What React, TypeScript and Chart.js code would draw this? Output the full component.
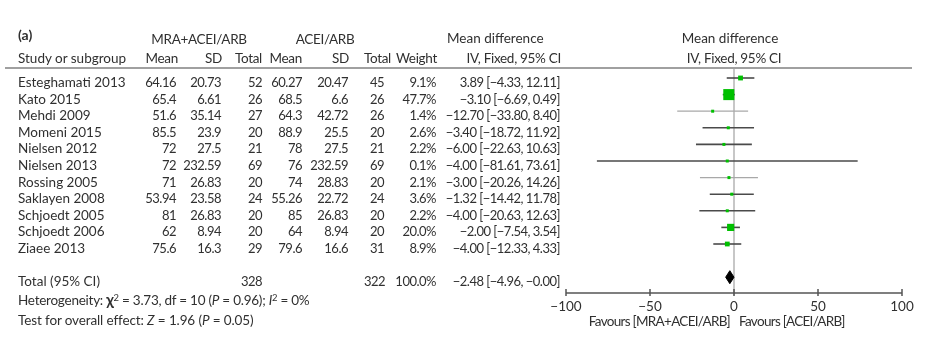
import React, { useEffect, useRef } from "react";
import { Chart, registerables } from "chart.js";

Chart.register(...registerables);

// ---------------- data ----------------
const studies = [
  "Esteghamati 2013", "Kato 2015", "Mehdi 2009", "Momeni 2015", "Nielsen 2012",
  "Nielsen 2013", "Rossing 2005", "Saklayen 2008", "Schjoedt 2005", "Schjoedt 2006", "Ziaee 2013",
];
const meanA = [64.16, 65.4, 51.6, 85.5, 72, 72, 71, 53.94, 81, 62, 75.6];
const sdA = [20.73, 6.61, 35.14, 23.9, 27.5, 232.59, 26.83, 23.58, 26.83, 8.94, 16.3];
const totalA = [52, 26, 27, 20, 21, 69, 20, 24, 20, 20, 29];
const meanB = [60.27, 68.5, 64.3, 88.9, 78, 76, 74, 55.26, 85, 64, 79.6];
const sdB = [20.47, 6.6, 42.72, 25.5, 27.5, 232.59, 28.83, 22.72, 26.83, 8.94, 16.6];
const totalB = [45, 26, 26, 20, 21, 69, 20, 24, 20, 20, 31];
const weight = [9.1, 47.7, 1.4, 2.6, 2.2, 0.1, 2.1, 3.6, 2.2, 20.0, 8.9];
const md = [3.89, -3.1, -12.7, -3.4, -6.0, -4.0, -3.0, -1.32, -4.0, -2.0, -4.0];
const ciLo = [-4.33, -6.69, -33.8, -18.72, -22.63, -81.61, -20.26, -14.42, -20.63, -7.54, -12.33];
const ciHi = [12.11, 0.49, 8.4, 11.92, 10.63, 73.61, 14.26, 11.78, 12.63, 3.54, 4.33];

const pooledTotalA = 328;
const pooledTotalB = 322;
const pooledWeight = 100.0;
const pooledMD = -2.48;
const pooledLo = -4.96;
const pooledHi = -0.002;

const axisTicks = [-100, -50, 0, 50, 100];

// ---------------- styles ----------------
const W = 940;
const H = 338;
const FONT = "Lato, 'Open Sans', sans-serif";
const FS = 13.5;
const INK = "#303030";
const GREEN = "rgb(0,192,0)";
const ROW0 = 78; // pixel of first row marker
const ROWH = 16.6;
const TEXT_DY = 4;
const PLOT = { left: 566, right: 902, top: 68, bottom: 293 };
const lightCI = new Set(["Mehdi 2009", "Rossing 2005"]);
const pooledRow = studies.length + 1;
const NUM: React.CSSProperties = { fontSize: 13, letterSpacing: "-0.5px" };
const HDR: React.CSSProperties = { letterSpacing: "-0.3px" };
const FAV: React.CSSProperties = { letterSpacing: "-0.7px" };

const fmt = (v: number, d = 2) => v.toFixed(d).replace("-", "\u2212");
const ciText = (m: number, l: number, h: number) => `${fmt(m)} [${fmt(l)}, ${fmt(h)}]`;

type TProps = { x: number; y: number; align?: "left" | "right" | "center"; children: React.ReactNode; style?: React.CSSProperties };
function T({ x, y, align = "left", children, style }: TProps) {
  const s: React.CSSProperties = {
    position: "absolute",
    top: y,
    whiteSpace: "nowrap",
    lineHeight: "16px",
    ...style,
  };
  if (align === "left") {
    s.left = x;
    s.transform = "translateY(-50%)";
  } else if (align === "right") {
    s.right = W - x;
    s.transform = "translateY(-50%)";
  } else {
    s.left = x;
    s.transform = "translate(-50%,-50%)";
  }
  return <div style={s}>{children}</div>;
}

const axisPlugin = {
  id: "forestAxis",
  afterDatasetsDraw(chart: any) {
    const { ctx, chartArea, scales } = chart;
    const x = scales.x;
    const y = chartArea.bottom;
    ctx.save();
    ctx.strokeStyle = "#555";
    ctx.lineWidth = 1.5;
    ctx.beginPath();
    ctx.moveTo(x.getPixelForValue(axisTicks[0]), y);
    ctx.lineTo(x.getPixelForValue(axisTicks[axisTicks.length - 1]), y);
    ctx.stroke();
    ctx.fillStyle = INK;
    ctx.font = `${FS}px ${FONT}`;
    ctx.textAlign = "center";
    ctx.textBaseline = "middle";
    for (const v of axisTicks) {
      const px = x.getPixelForValue(v);
      ctx.beginPath();
      ctx.moveTo(px, y - 4);
      ctx.lineTo(px, y + 3);
      ctx.stroke();
      ctx.fillText(fmt(v, 0), px, y + 14);
    }
    ctx.restore();
  },
};

export default function App() {
  const ref = useRef<HTMLCanvasElement | null>(null);

  useEffect(() => {
    if (!ref.current) return;
    const yMin = (PLOT.top - ROW0) / ROWH;
    const yMax = (PLOT.bottom - ROW0) / ROWH;
    const dh = 6.5 / ROWH;

    const datasets: any[] = [];
    datasets.push({
      type: "line",
      data: [{ x: 0, y: yMin }, { x: 0, y: yMax + 0.15 }],
      borderColor: "#b5b5b5",
      borderWidth: 1.5,
      pointRadius: 0,
      order: 3,
      clip: false,
    });
    studies.forEach((s, i) => {
      const light = lightCI.has(s);
      datasets.push({
        type: "line",
        label: s,
        data: [{ x: ciLo[i], y: i }, { x: ciHi[i], y: i }],
        borderColor: light ? "#a8a8a8" : "#4a4a4a",
        borderWidth: light ? 1.2 : 1.6,
        pointRadius: 0,
        order: 2,
        clip: false,
      });
    });
    datasets.push({
      type: "scatter",
      label: "Mean difference",
      data: md.map((v, i) => ({ x: v, y: i })),
      pointStyle: "rect",
      pointRadius: weight.map((w) => Math.max(3, 1.6 * Math.sqrt(w)) / Math.SQRT2),
      pointBackgroundColor: GREEN,
      pointBorderWidth: 0,
      order: 1,
      clip: false,
    });
    datasets.push({
      type: "line",
      label: "Total",
      data: [
        { x: pooledLo, y: pooledRow },
        { x: pooledMD, y: pooledRow - dh },
        { x: pooledHi, y: pooledRow },
        { x: pooledMD, y: pooledRow + dh },
        { x: pooledLo, y: pooledRow },
      ],
      borderColor: "#000",
      backgroundColor: "#000",
      borderWidth: 1,
      fill: "shape",
      pointRadius: 0,
      tension: 0,
      order: 0,
      clip: false,
    });

    const chart = new Chart(ref.current, {
      type: "line",
      data: { datasets },
      options: {
        animation: false,
        responsive: false,
        devicePixelRatio: 1,
        layout: {
          padding: { left: PLOT.left, right: W - PLOT.right, top: PLOT.top, bottom: H - PLOT.bottom },
        },
        plugins: { legend: { display: false }, tooltip: { enabled: false } },
        scales: {
          x: { type: "linear", min: axisTicks[0], max: axisTicks[axisTicks.length - 1], display: false },
          y: { type: "linear", min: yMin, max: yMax, reverse: true, display: false },
        },
      } as any,
      plugins: [axisPlugin],
    });
    return () => chart.destroy();
  }, []);

  const rowY = (i: number) => ROW0 + i * ROWH + TEXT_DY;
  const sup: React.CSSProperties = { fontSize: "0.7em", position: "relative", top: "-0.45em" };

  return (
    <div
      style={{
        position: "absolute",
        left: 0,
        top: 0,
        width: W,
        height: H,
        background: "#fff",
        fontFamily: FONT,
        fontSize: FS,
        color: INK,
      }}
    >
      <canvas ref={ref} width={W} height={H} style={{ position: "absolute", left: 0, top: 0, width: W, height: H }} />
      <div style={{ position: "absolute", left: 5, top: 67, width: 907, height: 2, background: "#a0a0a0" }} />

      {/* header row 1 */}
      <T x={18} y={35} style={{ fontWeight: 700, fontSize: 14 }}>(a)</T>
      <T x={199} y={39} align="center" style={HDR}>MRA+ACEI/ARB</T>
      <T x={325} y={39} align="center" style={HDR}>ACEI/ARB</T>
      <T x={447} y={38}>Mean difference</T>
      <T x={730} y={38} align="center">Mean difference</T>

      {/* header row 2 */}
      <T x={18} y={58}>Study or subgroup</T>
      <T x={178} y={58} align="right" style={HDR}>Mean</T>
      <T x={222} y={58} align="right" style={HDR}>SD</T>
      <T x={262} y={58} align="right" style={HDR}>Total</T>
      <T x={302} y={58} align="right" style={HDR}>Mean</T>
      <T x={349} y={58} align="right" style={HDR}>SD</T>
      <T x={391} y={58} align="right" style={HDR}>Total</T>
      <T x={437} y={58} align="right" style={HDR}>Weight</T>
      <T x={561} y={58} align="right" style={HDR}>IV, Fixed, 95% CI</T>
      <T x={734} y={58} align="center" style={HDR}>IV, Fixed, 95% CI</T>

      {studies.map((s, i) => (
        <React.Fragment key={s}>
          <T x={18} y={rowY(i)}>{s}</T>
          <T x={176} y={rowY(i)} align="right" style={NUM}>{String(meanA[i])}</T>
          <T x={221} y={rowY(i)} align="right" style={NUM}>{String(sdA[i])}</T>
          <T x={262} y={rowY(i)} align="right" style={NUM}>{String(totalA[i])}</T>
          <T x={302} y={rowY(i)} align="right" style={NUM}>{String(meanB[i])}</T>
          <T x={348} y={rowY(i)} align="right" style={NUM}>{String(sdB[i])}</T>
          <T x={384} y={rowY(i)} align="right" style={NUM}>{String(totalB[i])}</T>
          <T x={436} y={rowY(i)} align="right" style={NUM}>{weight[i].toFixed(1)}%</T>
          <T x={560} y={rowY(i)} align="right" style={NUM}>{ciText(md[i], ciLo[i], ciHi[i])}</T>
        </React.Fragment>
      ))}

      {/* totals */}
      <T x={18} y={rowY(pooledRow)}>Total (95% CI)</T>
      <T x={262} y={rowY(pooledRow)} align="right" style={NUM}>{String(pooledTotalA)}</T>
      <T x={385} y={rowY(pooledRow)} align="right" style={NUM}>{String(pooledTotalB)}</T>
      <T x={436} y={rowY(pooledRow)} align="right" style={NUM}>{pooledWeight.toFixed(1)}%</T>
      <T x={560} y={rowY(pooledRow)} align="right" style={NUM}>{ciText(pooledMD, pooledLo, pooledHi)}</T>

      <T x={18} y={300} style={{ letterSpacing: "-0.25px" }}>
        Heterogeneity: <b style={{ fontSize: "1.15em" }}>χ</b>
        <span style={sup}>2</span> = 3.73, df = 10 (<i>P</i> = 0.96); <i>I</i>
        <span style={sup}>2</span> = 0%
      </T>
      <T x={18} y={320} style={{ letterSpacing: "-0.12px" }}>
        Test for overall effect: <i>Z</i> = 1.96 (<i>P</i> = 0.05)
      </T>

      <T x={730} y={321} align="right" style={FAV}>Favours [MRA+ACEI/ARB]</T>
      <T x={739} y={321} style={FAV}>Favours [ACEI/ARB]</T>
    </div>
  );
}
